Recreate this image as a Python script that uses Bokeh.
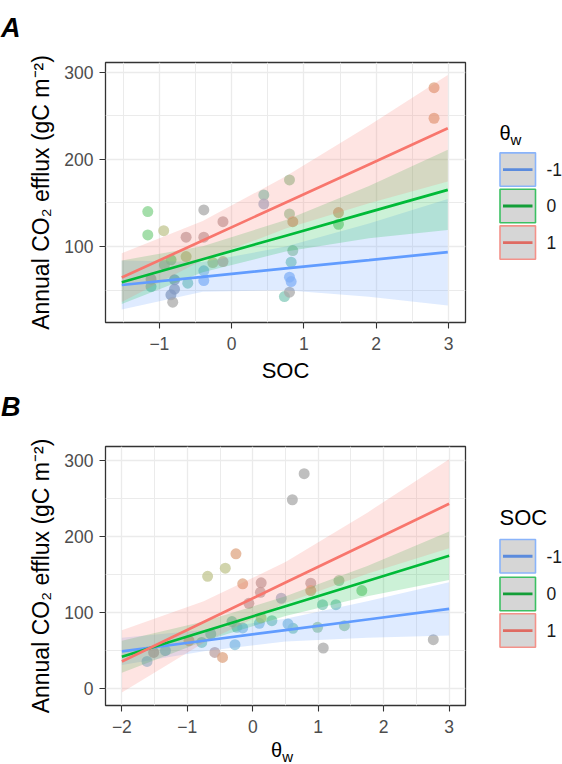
from bokeh.plotting import figure
from bokeh.layouts import column, row
from bokeh.models import Range1d, FixedTicker, Div
from bokeh.embed import file_html
from bokeh.resources import INLINE
from bokeh.core.properties import value

FONT = "Liberation Sans"

# ---------------- data ----------------
levels = ["-1", "0", "1"]
line_colors = ["#619CFF", "#00BA38", "#F8766D"]
key_line_colors = ["#5B8BDD", "#139E38", "#DF6B62"]
key_border_colors = ["#8AB4FA", "#3CC063", "#F3928A"]

tints = {"tan": "#DFA683", "green": "#86D38E", "sage": "#9CC9A0", "teal": "#84C9BA",
         "sky": "#8CC3DF", "blue": "#8BB5F5", "slate": "#8E9BB3", "gray": "#A9A9A9",
         "mauve": "#BCA2A2", "pink": "#D9A9A6", "olive": "#C2C590", "bluegray": "#A3B2CC"}

# Panel A: efflux vs SOC
a_soc = [2.80, 2.80, 0.80, 0.445, 0.445, -1.16, -1.16, -0.94, -0.385, -0.12, -0.63, -0.385,
         0.80, 0.846, 1.478, 1.478, 0.846, 0.823, 0.80, 0.823, 0.73, 0.80, -0.63, -0.838,
         -0.93, -0.26, -0.12, -0.385, -0.385, -0.607, -0.79, -0.79, -0.84, -0.815, -1.115, -1.115]
a_flux = [282.1, 247.1, 176.4, 159.2, 148.9, 140.1, 113.4, 118.3, 142.0, 128.6, 110.8, 110.8,
          137.5, 128.6, 139.0, 125.6, 95.4, 82.1, 64.9, 59.9, 42.7, 47.8, 88.6, 84.8,
          79.0, 81.7, 82.8, 72.2, 61.1, 58.1, 61.9, 51.2, 44.7, 36.3, 62.7, 54.2]
a_tint = ["tan", "tan", "sage", "teal", "bluegray", "green", "green", "olive", "gray", "mauve", "mauve", "mauve",
          "sage", "tan", "tan", "green", "sage", "teal", "blue", "blue", "teal", "gray", "olive", "green",
          "sage", "olive", "pink", "sky", "blue", "teal", "slate", "slate", "slate", "gray", "gray", "teal"]

a_grid = [-1.52, -0.4, 0.75, 1.9, 2.99]
a_fit = [[56.0, 65.3, 75.0, 84.5, 93.6],
         [59.2, 85.5, 112.5, 139.5, 165.0],
         [64.5, 107.0, 150.6, 194.2, 235.6]]
a_upper = [[84.0, 82.3, 100.0, 126.5, 154.6],
           [84.2, 100.5, 130.5, 169.5, 211.0],
           [92.5, 129.3, 180.6, 238.7, 296.6]]
a_lower = [[28.0, 48.3, 50.0, 42.5, 32.6],
           [34.2, 70.5, 94.5, 109.5, 119.0],
           [36.5, 84.7, 120.6, 149.7, 174.6]]

# Panel B: efflux vs theta_w
b_theta = [0.785, 0.605, -0.257, -0.42, -0.69, -0.154, 0.128, 0.117, -0.06, 0.886, 0.886, 1.317,
           1.666, 0.435, 1.066, 1.271, 1.40, 0.99, 0.615, 0.538, 1.077, 2.758, 0.292, 0.10,
           0.128, -0.318, -0.242, -0.154, -0.272, -0.58, -0.462, -0.642, -0.78, -0.975, -1.334, -1.514, -1.615]
b_flux = [282.7, 248.3, 177.0, 158.0, 147.4, 137.4, 138.7, 126.3, 111.8, 138.2, 128.5, 141.7,
          128.5, 118.4, 110.0, 110.0, 82.3, 80.1, 78.7, 84.5, 52.8, 63.8, 88.9, 85.3,
          92.5, 87.6, 80.1, 79.3, 57.2, 47.0, 40.4, 71.3, 60.2, 62.5, 49.3, 47.0, 35.1]
b_tint = ["gray", "gray", "tan", "olive", "olive", "tan", "mauve", "mauve", "mauve", "mauve", "tan", "sage",
          "green", "bluegray", "teal", "teal", "sage", "sage", "teal", "sky", "gray", "gray", "teal", "sky",
          "olive", "teal", "teal", "sky", "sky", "mauve", "tan", "teal", "teal", "tan", "sky", "mauve", "sky"]

b_grid = [-2.0, -0.75, 0.5, 1.75, 3.0]
b_fit = [[48.4, 62.4, 76.4, 90.4, 104.4],
         [41.3, 74.6, 107.9, 141.1, 174.4],
         [35.1, 87.1, 139.1, 191.0, 243.0]]
b_upper = [[66.4, 76.4, 91.4, 114.4, 139.4],
           [62.3, 87.6, 120.9, 161.1, 206.4],
           [76.1, 114.5, 166.1, 231.3, 301.6]]
b_lower = [[30.4, 48.4, 61.4, 66.4, 69.4],
           [20.3, 61.6, 94.9, 121.1, 142.4],
           [-5.9, 59.7, 112.1, 150.7, 184.4]]

YLABEL = "Annual CO\u2082 efflux (gC m\u207b\u00b2)"


def panel(xs, ys, tint, grid, fit, upper, lower, xr, yr, xticks, yticks, yminor,
          height, top, bottom, xlabel):
    p = figure(width=470, height=height, x_range=Range1d(*xr), y_range=Range1d(*yr),
               output_backend="svg", toolbar_location=None, title=None,
               min_border_left=105, min_border_right=5, min_border_top=top, min_border_bottom=bottom)
    p.background_fill_color = "white"
    p.border_fill_color = "white"
    p.outline_line_color = "#333333"
    p.outline_line_width = 1.3
    xminor = [-1.5, -0.5, 0.5, 1.5, 2.5]
    p.xaxis.ticker = FixedTicker(ticks=xticks, minor_ticks=xminor)
    p.yaxis.ticker = FixedTicker(ticks=yticks, minor_ticks=yminor)
    for g in (p.xgrid, p.ygrid):
        g.grid_line_color = "#EBEBEB"
        g.grid_line_width = 1.3
        g.minor_grid_line_color = "#EBEBEB"
        g.minor_grid_line_width = 1.0
    for ax in (p.xaxis, p.yaxis):
        ax.axis_line_color = None
        ax.major_tick_line_color = "#333333"
        ax.major_tick_line_width = 1.1
        ax.major_tick_out = 6
        ax.major_tick_in = 0
        ax.minor_tick_line_color = None
        ax.major_label_text_font = FONT
        ax.major_label_text_font_size = "17.5px"
        ax.major_label_text_color = "#4D4D4D"
        ax.axis_label_text_font = FONT
        ax.axis_label_text_font_size = "22px"
        ax.axis_label_text_font_style = "normal"
        ax.axis_label_text_color = "black"
    p.yaxis.major_label_standoff = 6
    p.xaxis.major_label_standoff = 8
    p.yaxis.axis_label = YLABEL
    p.yaxis.axis_label_text_font_size = "23px"
    p.yaxis.axis_label_standoff = 7
    if xlabel:
        p.xaxis.axis_label = xlabel
        p.xaxis.axis_label_standoff = 5

    p.scatter(xs, ys, size=11, fill_color=[tints[t] for t in tint], line_color=None, fill_alpha=0.75)
    for i in range(3):
        p.varea(x=grid, y1=lower[i], y2=upper[i], fill_color=line_colors[i], fill_alpha=0.2)
    for i in range(3):
        p.line(grid, fit[i], line_color=line_colors[i], line_width=2.7)
    return p


def legend(height, top, bottom, title_y, box_tops, title_kind):
    # coordinates of this legend are page pixels (x from 470 to 562, y downwards)
    frame_top = top
    frame_bottom = height - bottom
    lg = figure(width=92, height=height, x_range=Range1d(470, 562),
                y_range=Range1d(bottom_px[title_kind], top_px[title_kind]),
                output_backend="svg", toolbar_location=None, title=None,
                x_axis_type=None, y_axis_type=None,
                min_border_left=0, min_border_right=0, min_border_top=top, min_border_bottom=bottom)
    lg.grid.visible = False
    lg.outline_line_color = None
    lg.background_fill_color = "white"
    lg.border_fill_color = "white"
    if title_kind == "theta":
        lg.text([499], [title_y], text=["\u03b8"], text_font=value(FONT), text_font_size="20px",
                text_baseline="middle", text_align="left", text_color="black")
        lg.text([510], [title_y + 7], text=["w"], text_font=value(FONT), text_font_size="15px",
                text_baseline="middle", text_align="left", text_color="black")
    else:
        lg.text([499], [title_y], text=["SOC"], text_font=value(FONT), text_font_size="22px",
                text_baseline="middle", text_align="left", text_color="black")
    for i, lev in enumerate(levels):
        t = box_tops[i]
        lg.quad(left=[499.5], right=[535], top=[t], bottom=[t + 33.5], fill_color="#D6D6D6",
                line_color=key_border_colors[i], line_width=1.6)
        lg.segment(x0=[502.5], x1=[532], y0=[t + 16.75], y1=[t + 16.75],
                   line_color=key_line_colors[i], line_width=2.8)
        lg.text([546], [t + 16.75], text=[lev], text_font=value(FONT), text_font_size="17.5px",
                text_baseline="middle", text_align="left", text_color="#1A1A1A")
    return lg


# page-pixel extent of each panel's frame (the legend's frame is aligned with it)
top_px = {"theta": 62, "soc": 446}
bottom_px = {"theta": 323, "soc": 705}


def tag(letter, height, pad_top):
    html = ('<div style="font-family: \'Liberation Sans\', sans-serif; font-size: 27px; '
            'font-weight: bold; font-style: italic; line-height: 27px; color: black; '
            'padding-top: %.1fpx; padding-left: 1px; margin: 0;">%s</div>' % (pad_top, letter))
    return Div(text=html, width=562, height=height, margin=0)


pa = panel(a_soc, a_flux, a_tint, a_grid, a_fit, a_upper, a_lower,
           (-1.745, 3.235), (13, 311), [-1, 0, 1, 2, 3], [100, 200, 300], [50, 150, 250],
           337, 14, 62, "SOC")
pb = panel(b_theta, b_flux, b_tint, b_grid, b_fit, b_upper, b_lower,
           (-2.25, 3.25), (-23, 318.5), [-2, -1, 0, 1, 2, 3], [0, 100, 200, 300], [50, 150, 250],
           310, 21, 30, None)

la = legend(337, 14, 62, 132.5, [152.7, 189.3, 226.0], "theta")
lb = legend(310, 21, 30, 516.7, [539.0, 576.7, 613.3], "soc")

div_a = tag("A", 48, 15.4)
div_b = tag("B", 40, 9.4)
div_x = Div(text=('<div style="font-family: \'Liberation Sans\', sans-serif; font-size: 20px; '
                  'line-height: 20px; color: black; padding-top: 5px; padding-left: 271px; margin: 0;">'
                  '\u03b8<sub style="font-size: 15px; line-height: 0;">w</sub></div>'),
            width=562, height=28, margin=0)

layout = column(div_a, row(pa, la), div_b, row(pb, lb), div_x)

with open("out.html", "w") as f:
    f.write(file_html(layout, INLINE))
